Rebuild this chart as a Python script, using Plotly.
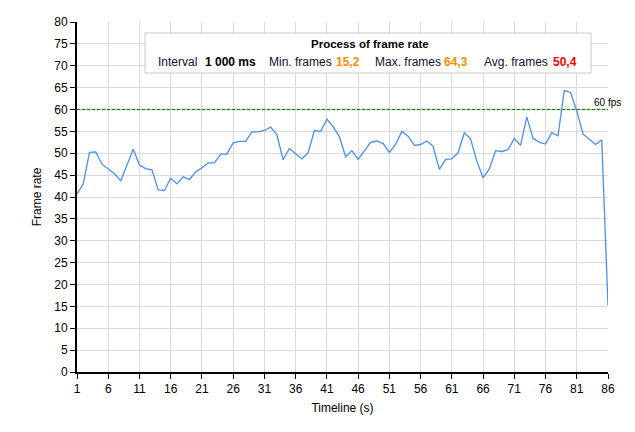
import plotly.graph_objects as go

timeline = list(range(1, 87))
frame_rate = [
    40.7, 43.0, 50.2, 50.3, 47.5, 46.3, 45.3, 43.7, 47.2, 50.9,
    47.3, 46.5, 46.2, 41.6, 41.5, 44.3, 43.0, 44.6, 44.0, 45.7,
    46.7, 47.8, 47.8, 49.8, 49.8, 52.4, 52.7, 52.7, 54.9, 54.9,
    55.2, 56.0, 54.2, 48.5, 51.1, 50.0, 48.7, 50.1, 55.2, 55.0,
    57.8, 56.1, 53.8, 49.2, 50.6, 48.6, 50.6, 52.5, 52.8, 52.2,
    50.2, 52.0, 55.0, 53.9, 51.8, 52.0, 52.8, 51.6, 46.3, 48.6,
    48.7, 50.1, 54.7, 53.3, 48.2, 44.4, 46.4, 50.6, 50.4, 50.8,
    53.4, 51.8, 58.3, 53.4, 52.5, 52.1, 54.7, 54.0, 64.3, 63.9,
    59.7, 54.4, 53.2, 52.0, 53.1, 15.2,
]
x_ticks = list(range(1, 87, 5))
y_ticks = list(range(0, 81, 5))
target_fps = 60
title_text = "Process of frame rate"
stats_labels = ["Interval", "Min. frames", "Max. frames", "Avg. frames"]
stats_values = ["1 000 ms", "15,2", "64,3", "50,4"]
stats_colors = ["#000000", "#ff8c00", "#ff8c00", "#ff0000"]

FONT = "Liberation Sans, Arial, sans-serif"

fig = go.Figure()

# 60 fps reference line (light underlay + dark green dashes), between grid and trace
fig.add_shape(type="line", xref="x", yref="y", x0=timeline[0], x1=timeline[-1],
              y0=target_fps, y1=target_fps, layer="between",
              line=dict(color="#9ccf9c", width=1.4))
fig.add_shape(type="line", xref="x", yref="y", x0=timeline[0], x1=timeline[-1],
              y0=target_fps, y1=target_fps, layer="between",
              line=dict(color="#1f7a1f", width=1.2, dash="3px,2px"))

fig.add_trace(go.Scatter(
    x=timeline, y=frame_rate, mode="lines",
    line=dict(color="#4a8ef0", width=1.3),
    showlegend=False, hoverinfo="skip",
))

# stats box
L, R, T, B = 77, 608, 22, 372
W, H = R - L, B - T
def px(x):
    return (x - L) / W
def py(y):
    return (B - y) / H

fig.add_shape(type="rect", xref="paper", yref="paper",
              x0=px(145), x1=px(591), y0=py(73), y1=py(33),
              fillcolor="white", line=dict(color="#c8c8c8", width=1), layer="above")

annotations = [
    dict(x=px(370), y=py(44), text="<b>" + title_text + "</b>", xanchor="center",
         yanchor="middle", font=dict(size=11.5, color="#000000")),
    dict(x=px(592), y=target_fps, yref="y", text="60 fps", xanchor="left",
         yanchor="bottom", yshift=0, font=dict(size=10, color="#000000")),
]
label_x = [156, 267, 373, 482]
value_x = [203, 334, 442, 551]
for lab, lx, val, vx, col in zip(stats_labels, label_x, stats_values, value_x, stats_colors):
    annotations.append(dict(x=px(lx), y=py(62), text=lab, xanchor="left", yanchor="middle",
                            font=dict(size=12, color="#101030")))
    annotations.append(dict(x=px(vx), y=py(62), text="<b>" + val + "</b>", xanchor="left",
                            yanchor="middle", font=dict(size=12, color=col)))
for a in annotations:
    a.setdefault("xref", "paper")
    a.setdefault("yref", "paper")
    a["showarrow"] = False

fig.update_layout(
    width=635, height=432,
    margin=dict(l=77, r=27, t=22, b=60),
    paper_bgcolor="white", plot_bgcolor="white",
    font=dict(family=FONT, size=12, color="#000000"),
    annotations=annotations,
    xaxis=dict(
        range=[timeline[0], timeline[-1]], tickmode="array", tickvals=x_ticks,
        ticks="outside", ticklen=5, tickcolor="#000000",
        showline=True, linecolor="#000000", linewidth=2,
        showgrid=True, gridcolor="#d9d9d9", gridwidth=1, zeroline=False,
        title=dict(text="Timeline (s)", standoff=8, font=dict(size=12)),
        tickfont=dict(size=12),
    ),
    yaxis=dict(
        range=[0, 80], tickmode="array", tickvals=y_ticks,
        ticks="outside", ticklen=5, tickcolor="#000000",
        showline=True, linecolor="#000000", linewidth=2,
        showgrid=True, gridcolor="#d9d9d9", gridwidth=1, zeroline=False,
        title=dict(text="Frame rate", standoff=10, font=dict(size=12)),
        tickfont=dict(size=12),
    ),
)

fig.write_html("out.html")
